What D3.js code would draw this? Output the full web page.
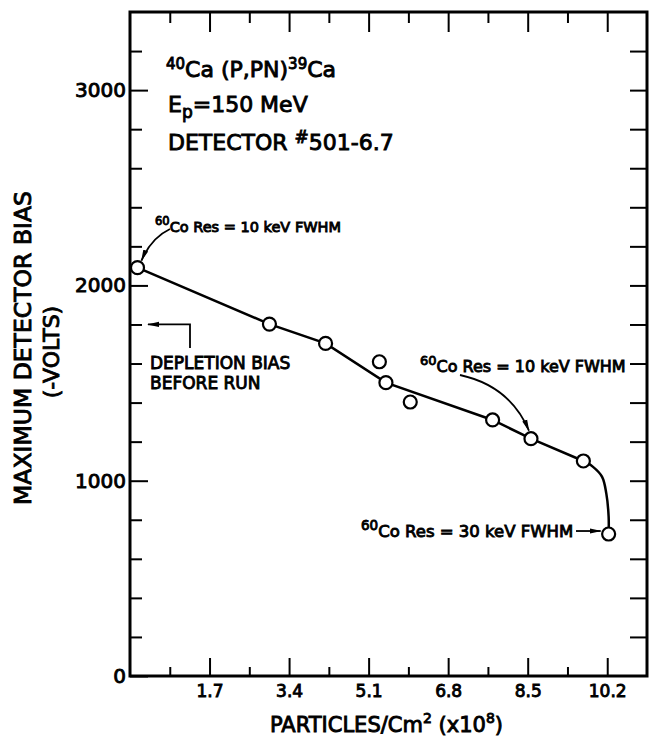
<!DOCTYPE html>
<html>
<head>
<meta charset="utf-8">
<script src="https://cdnjs.cloudflare.com/ajax/libs/d3/7.8.5/d3.min.js"></script>
<style>
  body { margin: 0; background: #fff; }
  text { font-family: "DejaVu Sans", sans-serif; fill: #000; stroke: #000; stroke-width: 0.9px; }
  .domain { display: none; }
  .tick line { stroke: #000; stroke-width: 2px; }
</style>
</head>
<body>
<div id="my_dataviz"></div>
<script>
// data
var fluence = [0.16, 2.98, 4.18, 5.33, 5.47, 5.99, 7.75, 8.57, 9.69, 10.23];
var bias    = [2091, 1802, 1703, 1609, 1502, 1403, 1311, 1215, 1101, 727];

// the drawn trend line (goes through some of the points)
var fitFluence = [0.16, 2.98, 4.18, 5.47, 7.75, 8.57, 9.69];
var fitBias    = [2091, 1802, 1703, 1502, 1311, 1215, 1101];

// curved drop at the end
var tailFluence = [9.69, 9.89, 10.09, 10.18, 10.23, 10.23];
var tailBias    = [1101, 1072, 1020, 935, 816, 727];

// ticks
var xMajor = [1.7, 3.4, 5.1, 6.8, 8.5, 10.2];
var xMinor = [0.85, 2.55, 4.25, 5.95, 7.65, 9.35];
var yLabels = [0, 1000, 2000, 3000];
var yMinor = d3.range(200, 3400, 200);

var W = 649, H = 741;
var margin = {top: 12, right: 2, bottom: 65, left: 130};

var svg = d3.select("#my_dataviz")
  .append("svg")
  .attr("width", W)
  .attr("height", H);

var x = d3.scaleLinear()
  .domain([0, 11.05])
  .range([margin.left, W - margin.right]);

var y = d3.scaleLinear()
  .domain([0, 3400])
  .range([H - margin.bottom, margin.top]);

var x0 = x.range()[0], x1 = x.range()[1];
var y0 = y.range()[0], y1 = y.range()[1];

// arrow head
svg.append("defs").append("marker")
  .attr("id", "arr")
  .attr("viewBox", "0 -4 12 8")
  .attr("refX", 11).attr("refY", 0)
  .attr("markerUnits", "userSpaceOnUse")
  .attr("markerWidth", 12).attr("markerHeight", 8)
  .attr("orient", "auto")
  .append("path")
  .attr("d", "M0,-2.6L12,0L0,2.6Z")
  .attr("fill", "#000");

// bottom axis: long ticks with labels, short ticks between
svg.append("g")
  .attr("transform", "translate(0," + y0 + ")")
  .call(d3.axisBottom(x).tickValues(xMajor).tickSize(-18).tickPadding(9)
    .tickFormat(d3.format(".1f")))
  .selectAll("text")
    .style("font-size", "17px");
svg.append("g")
  .attr("transform", "translate(0," + y0 + ")")
  .call(d3.axisBottom(x).tickValues(xMinor).tickSize(-9).tickFormat(""));

// top axis
svg.append("g")
  .attr("transform", "translate(0," + y1 + ")")
  .call(d3.axisTop(x).tickValues(xMajor).tickSize(-20).tickFormat(""));
svg.append("g")
  .attr("transform", "translate(0," + y1 + ")")
  .call(d3.axisTop(x).tickValues(xMinor).tickSize(-11).tickFormat(""));

// left axis
svg.append("g")
  .attr("transform", "translate(" + x0 + ",0)")
  .call(d3.axisLeft(y).tickValues(yLabels).tickSize(-18).tickPadding(4)
    .tickFormat(d3.format("d")))
  .selectAll("text")
    .style("font-size", "20px");
svg.append("g")
  .attr("transform", "translate(" + x0 + ",0)")
  .call(d3.axisLeft(y).tickValues(yMinor.filter(function(d) { return d % 1000; })).tickSize(-12).tickFormat(""));

// right axis
svg.append("g")
  .attr("transform", "translate(" + x1 + ",0)")
  .call(d3.axisRight(y).tickValues(yMinor).tickSize(-17).tickFormat(""));

// frame
svg.append("rect")
  .attr("x", x0).attr("y", y1)
  .attr("width", x1 - x0).attr("height", y0 - y1)
  .attr("fill", "none")
  .attr("stroke", "#000")
  .attr("stroke-width", 3);

// axis titles
svg.append("text")
  .attr("x", (x0 + x1) / 2 - 2)
  .attr("y", 732)
  .attr("text-anchor", "middle")
  .style("font-size", "21px")
  .call(function(t) {
    t.append("tspan").text("PARTICLES/Cm");
    t.append("tspan").attr("dy", -9).style("font-size", "14px").text("2");
    t.append("tspan").attr("dy", 9).text(" (x10");
    t.append("tspan").attr("dy", -9).style("font-size", "14px").text("8");
    t.append("tspan").attr("dy", 9).text(")");
  });

svg.append("text")
  .attr("transform", "translate(31," + ((y0 + y1) / 2 + 4) + ")rotate(-90)")
  .attr("text-anchor", "middle")
  .style("font-size", "23.5px")
  .text("MAXIMUM DETECTOR BIAS");
svg.append("text")
  .attr("transform", "translate(59," + ((y0 + y1) / 2 + 8) + ")rotate(-90)")
  .attr("text-anchor", "middle")
  .style("font-size", "22px")
  .text("(-VOLTS)");

// trend line
var line = d3.line()
  .x(function(d) { return x(d[0]); })
  .y(function(d) { return y(d[1]); });

svg.append("path")
  .datum(d3.zip(fitFluence, fitBias))
  .attr("d", line)
  .attr("fill", "none")
  .attr("stroke", "#000")
  .attr("stroke-width", 2.5);

svg.append("path")
  .datum(d3.zip(tailFluence, tailBias))
  .attr("d", line.curve(d3.curveCatmullRom))
  .attr("fill", "none")
  .attr("stroke", "#000")
  .attr("stroke-width", 2.5);

// points
svg.selectAll("circle.pt")
  .data(d3.zip(fluence, bias))
  .enter()
  .append("circle")
    .attr("class", "pt")
    .attr("cx", function(d) { return x(d[0]); })
    .attr("cy", function(d) { return y(d[1]); })
    .attr("r", 6.5)
    .attr("fill", "#fff")
    .attr("stroke", "#000")
    .attr("stroke-width", 2.2);

// header text
var head = svg.append("g").style("font-size", "22px");
head.append("text")
  .attr("x", 166).attr("y", 77)
  .call(function(t) {
    t.append("tspan").attr("dy", -8).style("font-size", "15px").text("40");
    t.append("tspan").attr("dy", 8).text("Ca (P,PN)");
    t.append("tspan").attr("dy", -8).style("font-size", "15px").text("39");
    t.append("tspan").attr("dy", 8).text("Ca");
  });
head.append("text")
  .attr("x", 168).attr("y", 112)
  .call(function(t) {
    t.append("tspan").text("E");
    t.append("tspan").attr("dy", 6).style("font-size", "17px").text("p");
    t.append("tspan").attr("dy", -6).text("=150 MeV");
  });
head.append("text")
  .attr("x", 168).attr("y", 150)
  .call(function(t) {
    t.append("tspan").text("DETECTOR ");
    t.append("tspan").attr("dy", -7).style("font-size", "17px").text("#");
    t.append("tspan").attr("dy", 7).text("501-6.7");
  });

// annotation helper: "60Co Res = .. keV FWHM"
function coNote(px, py, size, label) {
  svg.append("text")
    .attr("x", px).attr("y", py)
    .style("font-size", size + "px")
    .call(function(t) {
      t.append("tspan").attr("dy", -7).style("font-size", (size - 3) + "px").text("60");
      t.append("tspan").attr("dy", 7).text(label);
    });
}

coNote(155, 232, 14.5, "Co Res = 10 keV FWHM");
coNote(420, 372, 16, "Co Res = 10 keV FWHM");
coNote(361, 537, 16.5, "Co Res = 30 keV FWHM");

// arrows
function arrow(d) {
  svg.append("path")
    .attr("d", d)
    .attr("fill", "none")
    .attr("stroke", "#000")
    .attr("stroke-width", 1.8)
    .attr("marker-end", "url(#arr)");
}
var p1 = [x(fluence[0]), y(bias[0])];
var p8 = [x(fluence[7]), y(bias[7])];
var p10 = [x(fluence[9]), y(bias[9])];
arrow("M170,229Q151,238 " + (p1[0] + 4) + "," + (p1[1] - 7));
arrow("M460,375C492,382 516,400 " + (p8[0] - 2) + "," + (p8[1] - 8));
arrow("M576," + (p10[1] - 3) + "L" + (p10[0] - 8) + "," + (p10[1] - 3));

// depletion bias before run
var yd = y(1800);
arrow("M190,348L190," + yd + "L" + (x0 + 18) + "," + yd);
svg.append("text")
  .attr("x", 150).attr("y", 369)
  .style("font-size", "17px")
  .text("DEPLETION BIAS");
svg.append("text")
  .attr("x", 150).attr("y", 389)
  .style("font-size", "17px")
  .text("BEFORE RUN");
</script>
</body>
</html>
